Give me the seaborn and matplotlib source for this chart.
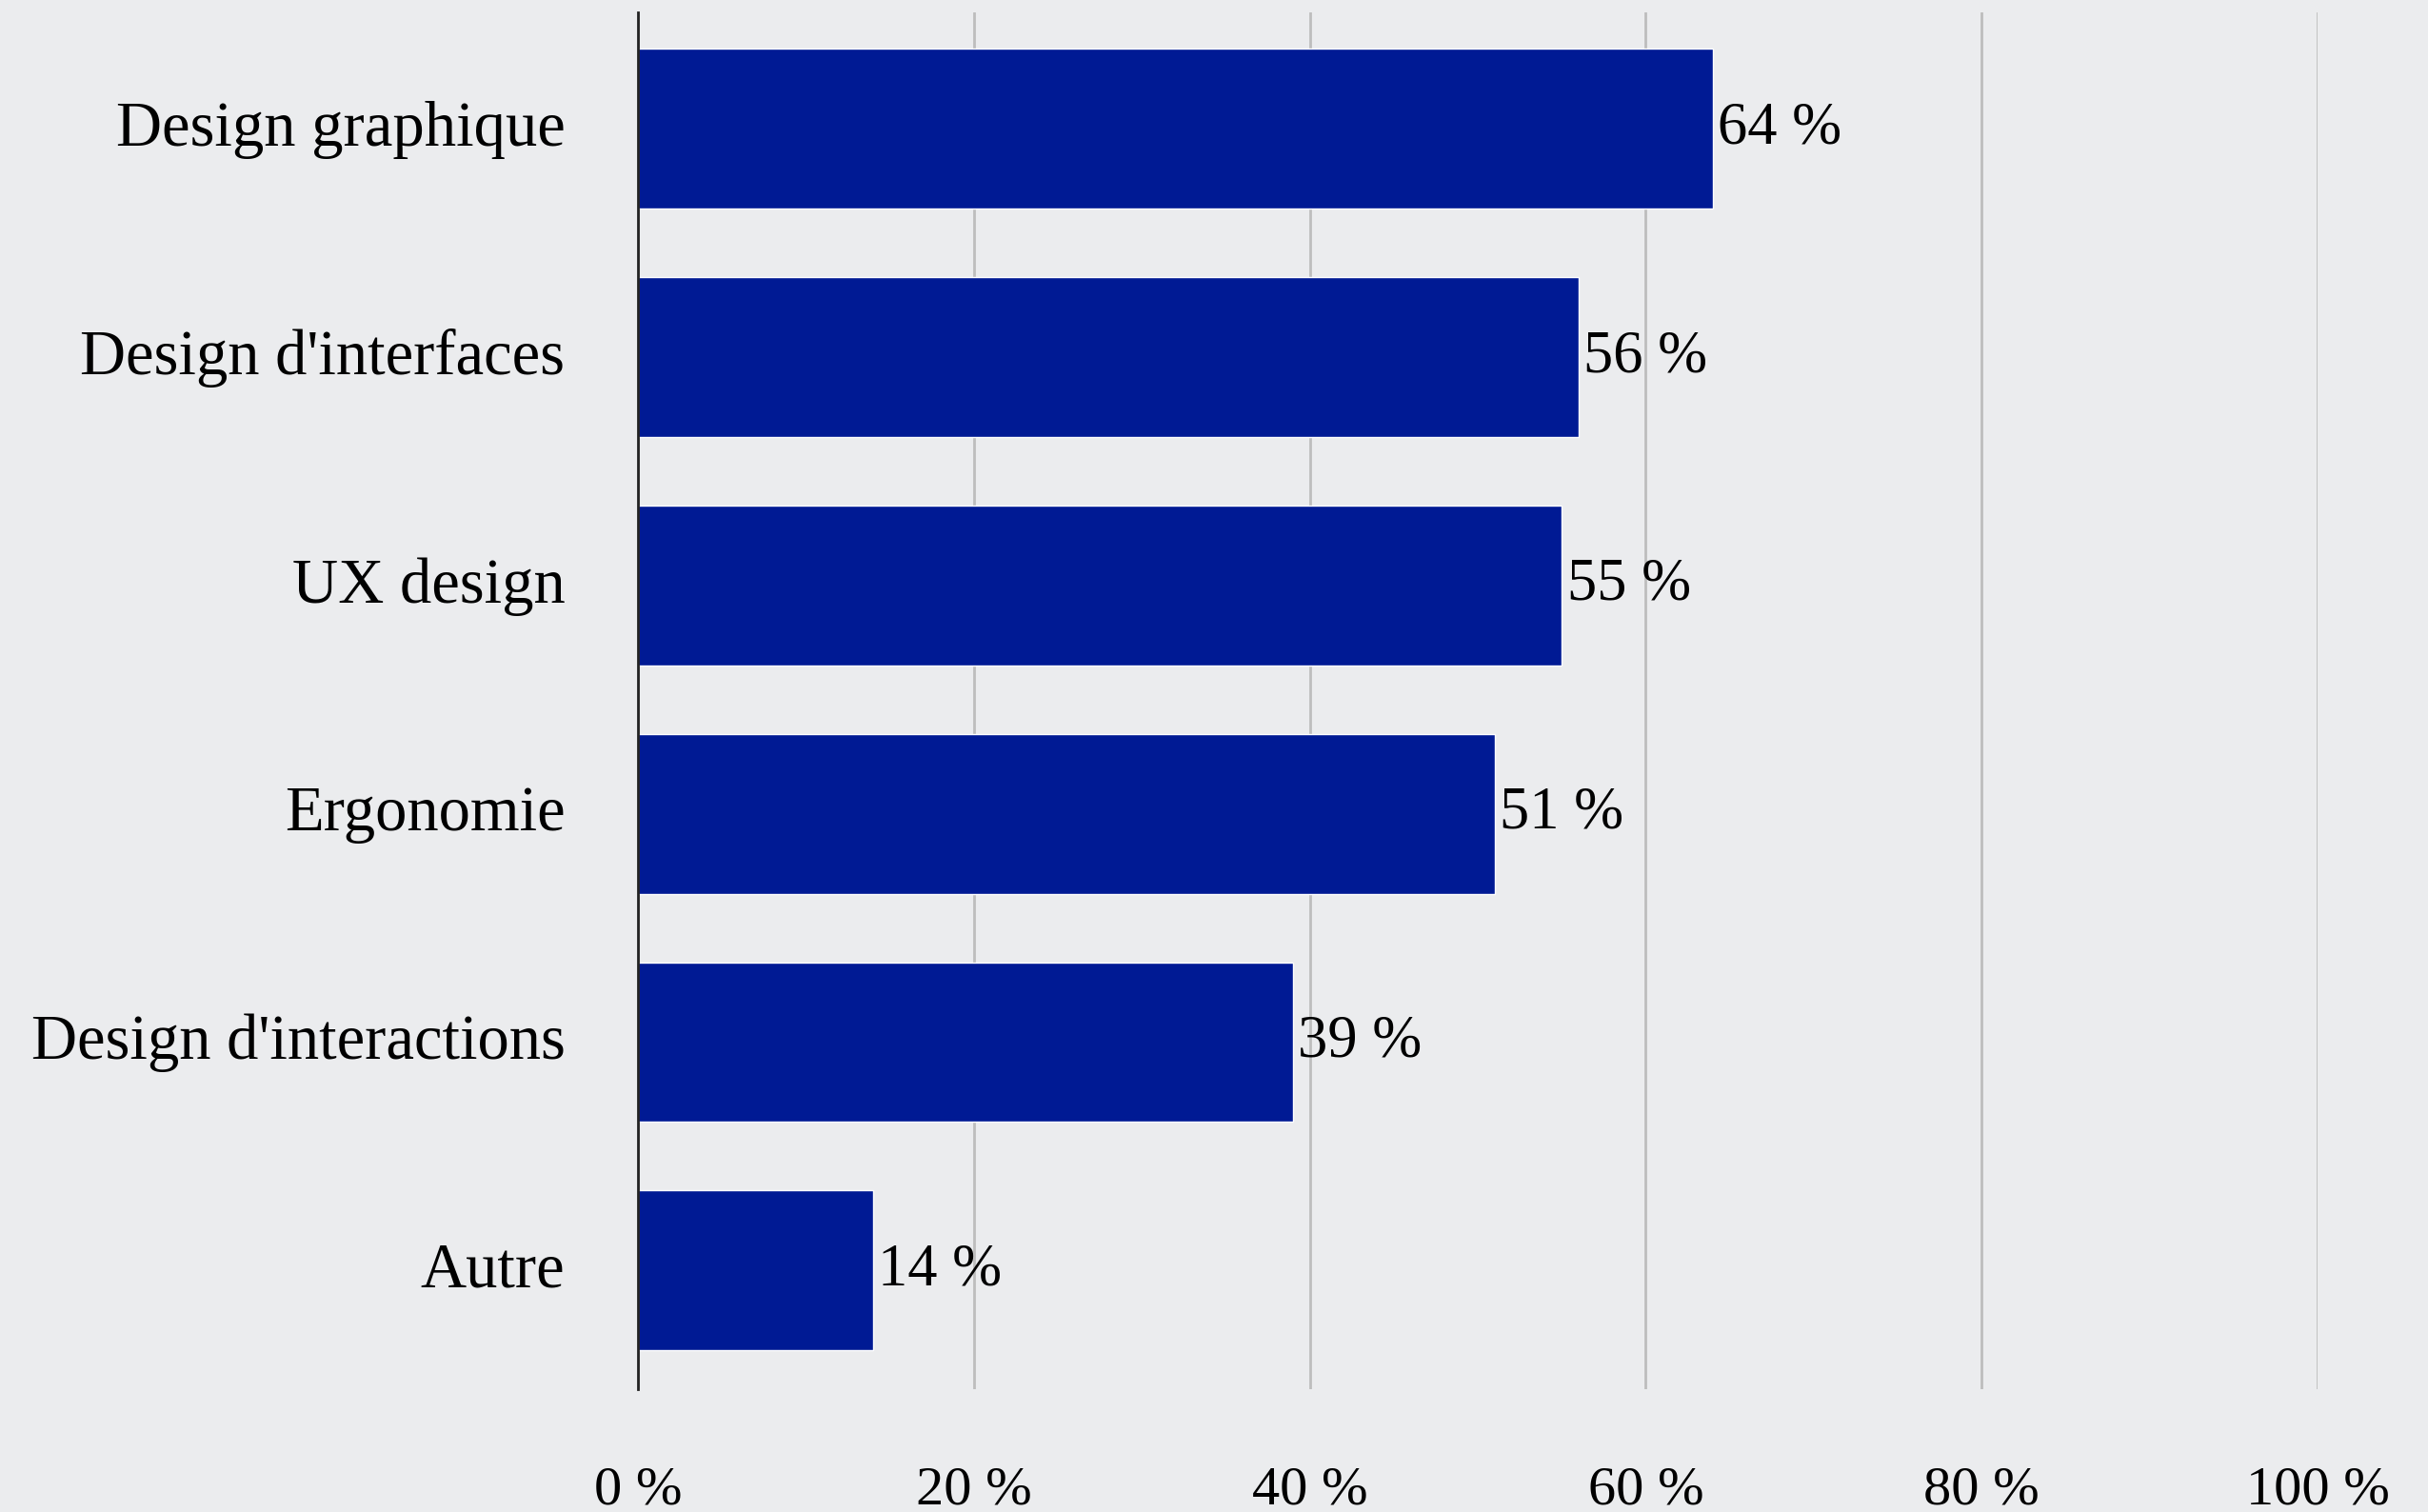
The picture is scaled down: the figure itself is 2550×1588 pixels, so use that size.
import pandas as pd
import seaborn as sns
from matplotlib import pyplot as plt
from matplotlib.transforms import ScaledTranslation

# Chart data.
categories = ['Design graphique', "Design d'interfaces", 'UX design', 'Ergonomie',
              "Design d'interactions", 'Autre']
values = [64, 56, 55, 51, 39, 14]
tick_values = [0, 20, 40, 60, 80, 100]
tick_labels = ['0 %', '20 %', '40 %', '60 %', '80 %', '100 %']

bg = '#EBECEE'
bar_color = '#001A94'

sns.set_style('white')
plt.rcParams['font.family'] = ['Liberation Serif', 'DejaVu Serif']
plt.rcParams['text.color'] = 'black'
plt.rcParams['xtick.color'] = 'black'
plt.rcParams['ytick.color'] = 'black'

df = pd.DataFrame({'cat': categories, 'val': values})

fig = plt.figure(figsize=(25.5, 15.88), dpi=100, facecolor=bg)
ax = fig.add_axes([0.2627, 0.0813, 0.6918, 0.9105])
ax.set_facecolor(bg)

sns.barplot(data=df, x='val', y='cat', color=bar_color, saturation=1, width=0.7, ax=ax, zorder=3)

ax.set_xlim(0, 100)
ax.set_ylim(5.52, -0.51)
ax.set_xticks(tick_values)
ax.set_xticklabels(tick_labels, fontsize=42)
ax.tick_params(axis='x', length=0, pad=58)
ax.tick_params(axis='y', length=0, pad=55, labelsize=48)
ax.xaxis.grid(True, color='#BDBDBD', linewidth=2, zorder=0)
ax.yaxis.grid(False)
for s in ['top', 'right', 'bottom']:
    ax.spines[s].set_visible(False)
ax.spines['left'].set_color('#222222')
ax.spines['left'].set_linewidth(2)
ax.spines['left'].set_zorder(4)
ax.set_xlabel('')
ax.set_ylabel('')

# nudge the category labels up a little, like the reference
shift = ScaledTranslation(0, 6 / 100, fig.dpi_scale_trans)
for lab in ax.get_yticklabels():
    lab.set_transform(lab.get_transform() + shift)

ax.bar_label(ax.containers[0], labels=[f'{v} %' for v in values], padding=4, fontsize=45)

fig.savefig('out.png', dpi=100, facecolor=bg)
